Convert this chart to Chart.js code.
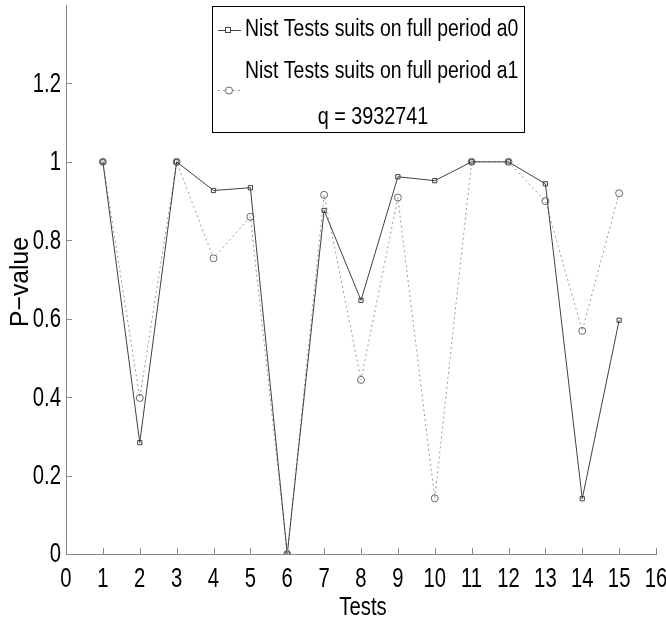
<!DOCTYPE html>
<html><head><meta charset="utf-8">
<script src="https://cdn.jsdelivr.net/npm/chart.js@4"></script>
<style>html,body{margin:0;padding:0;background:#fff}canvas{display:block}</style>
</head><body>
<canvas id="c" width="666" height="631"></canvas>
<script>
const tests = [1,2,3,4,5,6,7,8,9,10,11,12,13,14,15];
const pA0 = [1.0,0.284,1.0,0.927,0.934,0.0,0.876,0.647,0.962,0.952,1.0,1.0,0.944,0.141,0.596];
const pA1 = [1.0,0.398,1.0,0.754,0.860,0.0,0.916,0.444,0.909,0.142,1.0,1.0,0.900,0.569,0.920];
const xTicks = [0,1,2,3,4,5,6,7,8,9,10,11,12,13,14,15,16];
const yTicks = [0,0.2,0.4,0.6,0.8,1,1.2];
const xTitle = 'Tests';
const yTitle = 'P\u2212value';
const legendLines = ['Nist Tests suits on full period a0','Nist Tests suits on full period a1','q = 3932741'];
const FONT = '"Liberation Sans", Arial, sans-serif';

function sText(ctx, txt, x, y, sx, align){
  ctx.save();
  ctx.translate(x, y);
  ctx.scale(sx, 1);
  ctx.textAlign = align; ctx.textBaseline = 'middle';
  ctx.fillText(txt, 0, 0);
  ctx.restore();
}

const matlabLook = {
  id:'matlabLook',
  afterDraw(chart){
    const {ctx, chartArea:a, scales:{x,y}} = chart;
    ctx.save();
    ctx.strokeStyle='#8a8a8a'; ctx.lineWidth=1;
    ctx.beginPath();
    x.ticks.forEach(t=>{const px=Math.round(x.getPixelForValue(t.value))+0.5; ctx.moveTo(px,a.bottom); ctx.lineTo(px,a.bottom-6);});
    y.ticks.forEach(t=>{const py=Math.round(y.getPixelForValue(t.value))+0.5; ctx.moveTo(a.left,py); ctx.lineTo(a.left+6,py);});
    ctx.stroke();
    // tick labels
    ctx.fillStyle='#000'; ctx.font='27px '+FONT;
    x.ticks.forEach(t=>sText(ctx, String(t.value), x.getPixelForValue(t.value), a.bottom+26, 0.75, 'center'));
    y.ticks.forEach(t=>sText(ctx, String(t.value), a.left-5, y.getPixelForValue(t.value)+1, 0.75, 'right'));
    // axis titles
    ctx.font='26px '+FONT;
    sText(ctx, xTitle, (a.left+a.right)/2 + 2, 608, 0.78, 'center');
    ctx.save(); ctx.translate(21, 282); ctx.rotate(-Math.PI/2);
    sText(ctx, yTitle, 0, 0, 0.95, 'center'); ctx.restore();
    // legend
    const L=212,T=6,R=524,B=132;
    ctx.fillStyle='#fff'; ctx.fillRect(L,T,R-L,B-T);
    ctx.strokeStyle='#000'; ctx.strokeRect(L+0.5,T+0.5,R-L,B-T);
    ctx.fillStyle='#000'; ctx.font='23px '+FONT;
    sText(ctx, legendLines[0], 245, 30, 0.845, 'left');
    sText(ctx, legendLines[1], 245, 72, 0.845, 'left');
    sText(ctx, legendLines[2], 373, 118, 0.86, 'center');
    // samples
    ctx.strokeStyle='#444'; ctx.beginPath(); ctx.moveTo(218,30.5); ctx.lineTo(241,30.5); ctx.stroke();
    ctx.fillStyle='#fff'; ctx.fillRect(226,28,5,5); ctx.strokeRect(225.5,27.5,5,5);
    ctx.strokeStyle='#999'; ctx.setLineDash([2,3]); ctx.beginPath(); ctx.moveTo(218,90.5); ctx.lineTo(241,90.5); ctx.stroke();
    ctx.setLineDash([]); ctx.beginPath(); ctx.arc(229,90.5,3.5,0,Math.PI*2); ctx.fill(); ctx.strokeStyle='#666'; ctx.stroke();
    ctx.restore();
  }
};

new Chart(document.getElementById('c'), {
  type:'line',
  data:{
    datasets:[
      {label:legendLines[0], data:tests.map((t,i)=>({x:t,y:pA0[i]})), borderColor:'#404040', borderWidth:1,
       pointStyle:'rect', pointRadius:3, pointBorderColor:'#404040', pointBackgroundColor:'rgba(255,255,255,0)', pointBorderWidth:1, tension:0},
      {label:legendLines[1], data:tests.map((t,i)=>({x:t,y:pA1[i]})), borderColor:'#9a9a9a', borderWidth:1, borderDash:[2,3],
       pointStyle:'circle', pointRadius:3.5, pointBorderColor:'#666', pointBackgroundColor:'rgba(255,255,255,0)', pointBorderWidth:1, tension:0}
    ]
  },
  options:{
    responsive:false, animation:false,
    layout:{padding:{top:3,right:10,left:0,bottom:0}},
    plugins:{legend:{display:false}, tooltip:{enabled:false}},
    scales:{
      x:{type:'linear', min:0, max:16,
         afterBuildTicks(s){s.ticks = xTicks.map(v=>({value:v}));},
         afterFit(s){s.height=77;},
         grid:{display:false}, border:{display:true,color:'#8a8a8a',width:1},
         ticks:{display:false}},
      y:{min:0, max:1.4,
         afterBuildTicks(s){s.ticks = yTicks.map(v=>({value:v}));},
         afterFit(s){s.width=66;},
         grid:{display:false}, border:{display:true,color:'#8a8a8a',width:1},
         ticks:{display:false}}
    }
  },
  plugins:[matlabLook]
});
</script>
</body></html>
